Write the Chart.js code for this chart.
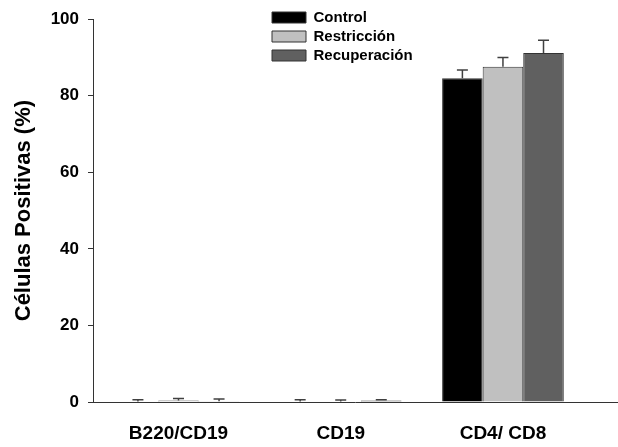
<!DOCTYPE html>
<html>
<head>
<meta charset="utf-8">
<script src="https://cdn.jsdelivr.net/npm/chart.js@4/dist/chart.umd.min.js"></script>
<style>
  html, body { margin: 0; padding: 0; background: #fff; }
  #wrap { width: 618px; height: 447px; }
</style>
</head>
<body>
<div id="wrap"><canvas id="c" width="618" height="447"></canvas></div>
<script>
// Marker populations
const categories = ['B220/CD19', 'CD19', 'CD4/ CD8'];
const seriesNames = ['Control', 'Restricción', 'Recuperación'];

// Mean percentage of positive cells
const control      = [0.1, 0.1, 84.6];
const restriccion  = [0.4, 0.1, 87.6];
const recuperacion = [0.2, 0.4, 91.2];

// Standard error (upper bars)
const controlErr      = [0.5, 0.5, 2.1];
const restriccionErr  = [0.5, 0.4, 2.4];
const recuperacionErr = [0.6, 0.2, 3.3];

const yTicks = [0, 20, 40, 60, 80, 100];

const FONT = '"Liberation Sans", Arial, sans-serif';
const AXIS = '#333333';

function points(values) {
  return values.map((v, i) => ({ x: i, y: v }));
}

// Upward error bars with caps, one per bar
const errorBars = {
  id: 'errorBars',
  afterDatasetsDraw(chart) {
    const ctx = chart.ctx;
    const yScale = chart.scales.y;
    ctx.save();
    ctx.strokeStyle = '#404040';
    ctx.lineWidth = 1.5;
    chart.data.datasets.forEach((ds, di) => {
      const meta = chart.getDatasetMeta(di);
      meta.data.forEach((bar, i) => {
        const v = ds.data[i].y;
        const e = ds.errors[i];
        const yBase = yScale.getPixelForValue(v);
        const yTop = yScale.getPixelForValue(v + e);
        const cap = 5.5;
        ctx.beginPath();
        ctx.moveTo(bar.x, yBase);
        ctx.lineTo(bar.x, yTop);
        ctx.moveTo(bar.x - cap, yTop);
        ctx.lineTo(bar.x + cap, yTop);
        ctx.stroke();
      });
    });
    ctx.restore();
  }
};

// Places the legend block near the top centre of the plot
const legendPlacer = {
  id: 'legendPlacer',
  afterLayout(chart) {
    const lg = chart.legend;
    if (!lg) return;
    const w = lg.width, h = lg.height;
    lg.left = 268;
    lg.top = 6;
    lg.right = lg.left + w;
    lg.bottom = lg.top + h;
  }
};

new Chart(document.getElementById('c'), {
  type: 'bar',
  data: {
    datasets: [
      { label: seriesNames[0], data: points(control), errors: controlErr,
        backgroundColor: '#000000', borderColor: '#333333', borderWidth: 1 },
      { label: seriesNames[1], data: points(restriccion), errors: restriccionErr,
        backgroundColor: '#c0c0c0', borderColor: '#333333', borderWidth: 1 },
      { label: seriesNames[2], data: points(recuperacion), errors: recuperacionErr,
        backgroundColor: '#606060', borderColor: '#333333', borderWidth: 1 }
    ]
  },
  options: {
    responsive: false,
    animation: false,
    devicePixelRatio: 1,
    layout: { padding: { top: 17, right: 1, bottom: 0, left: 0 } },
    datasets: { bar: { categoryPercentage: 0.75, barPercentage: 1.0 } },
    scales: {
      x: {
        type: 'linear',
        offset: false,
        min: -0.527,
        max: 2.703,
        afterFit(s) { s.height = 45; },
        afterBuildTicks(s) { s.ticks = categories.map((_, i) => ({ value: i })); },
        grid: { display: false, drawTicks: false },
        border: { display: true, color: AXIS, width: 1 },
        ticks: {
          autoSkip: false,
          maxRotation: 0,
          padding: 20,
          color: '#000',
          font: { family: FONT, size: 19, weight: 'bold' },
          callback: (v) => categories[v]
        }
      },
      y: {
        min: 0,
        max: 100,
        afterFit(s) { s.width = 93; },
        afterBuildTicks(s) { s.ticks = yTicks.map(v => ({ value: v })); },
        grid: { display: true, drawOnChartArea: false, drawTicks: true, tickLength: 5, color: AXIS, lineWidth: 1 },
        border: { display: true, color: AXIS, width: 1 },
        ticks: {
          padding: 9,
          color: '#000',
          font: { family: FONT, size: 17, weight: 'bold' }
        },
        title: {
          display: true,
          text: 'Células Positivas (%)',
          color: '#000',
          font: { family: FONT, size: 22, weight: 'bold' },
          padding: { top: 11, bottom: 0 }
        }
      }
    },
    plugins: {
      legend: {
        position: 'chartArea',
        align: 'start',
        labels: {
          boxWidth: 34,
          boxHeight: 11,
          padding: 4,
          color: '#000',
          font: { family: FONT, size: 15, weight: 'bold' }
        }
      },
      tooltip: { enabled: false }
    }
  },
  plugins: [errorBars, legendPlacer]
});
</script>
</body>
</html>
